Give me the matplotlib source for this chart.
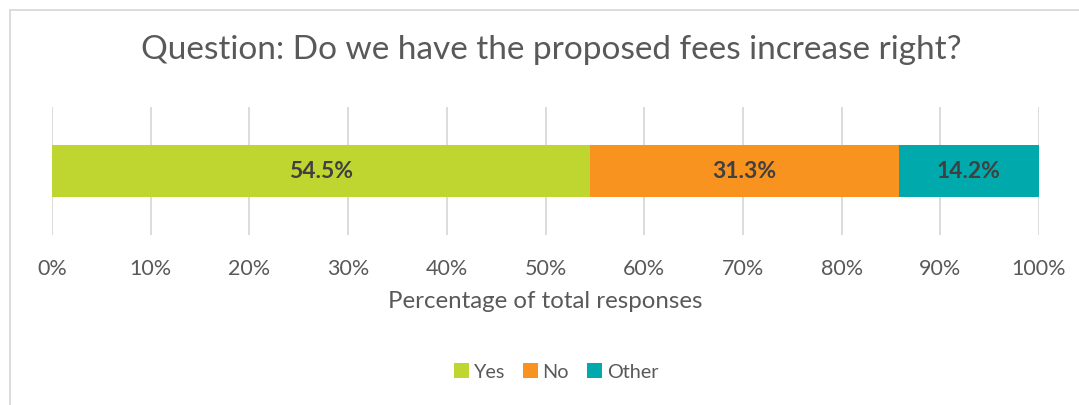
import matplotlib.pyplot as plt
from matplotlib.patches import Rectangle

plt.rcParams['font.family'] = ['Lato', 'DejaVu Sans']

answers = ['Yes', 'No', 'Other']
shares = [54.5, 31.3, 14.2]
colours = ['#BED62F', '#F7931E', '#00A9AC']
ticks = [0, 10, 20, 30, 40, 50, 60, 70, 80, 90, 100]

fig = plt.figure(figsize=(10.79, 4.05), dpi=100)
ax = fig.add_axes([52 / 1079, 1 - 235 / 405, 987 / 1079, 128 / 405])

left = 0
for name, val, col in zip(answers, shares, colours):
    ax.barh(0, val, left=left, height=0.406, color=col, label=name, zorder=3)
    ax.text(left + val / 2, 0, f'{val:.1f}%', ha='center', va='center',
            fontsize=16.5, fontweight='bold', color='#404040', zorder=4)
    left += val

ax.set_xlim(0, 100)
ax.set_ylim(-0.5, 0.5)
ax.set_xticks(ticks)
ax.set_xticklabels([f'{t}%' for t in ticks])
ax.set_yticks([])
ax.tick_params(axis='x', length=0, pad=17, labelsize=15.5, labelcolor='#595959')
ax.grid(axis='x', color='#D9D9D9', linewidth=1.3, zorder=0)
for s in ax.spines.values():
    s.set_visible(False)
ax.set_xlabel('Percentage of total responses', fontsize=17.3, color='#595959', labelpad=9)

fig.text(551 / 1079, 1 - 50 / 405, 'Question: Do we have the proposed fees increase right?',
         ha='center', va='center', fontsize=24, color='#595959')

fig.legend(loc='center', bbox_to_anchor=(556 / 1079, 1 - 372 / 405), ncol=3,
           frameon=False, fontsize=14.3, handlelength=0.75, handleheight=0.75,
           handletextpad=0.25, columnspacing=0.9, labelcolor='#595959')

# chart frame (left and top edges only visible)
fig.patches.append(Rectangle((9.5 / 1079, -0.1), 2, 1.1 - 10.5 / 405, transform=fig.transFigure,
                             fill=False, edgecolor='#D9D9D9', linewidth=1.3))

fig.savefig('out.png', dpi=100)
